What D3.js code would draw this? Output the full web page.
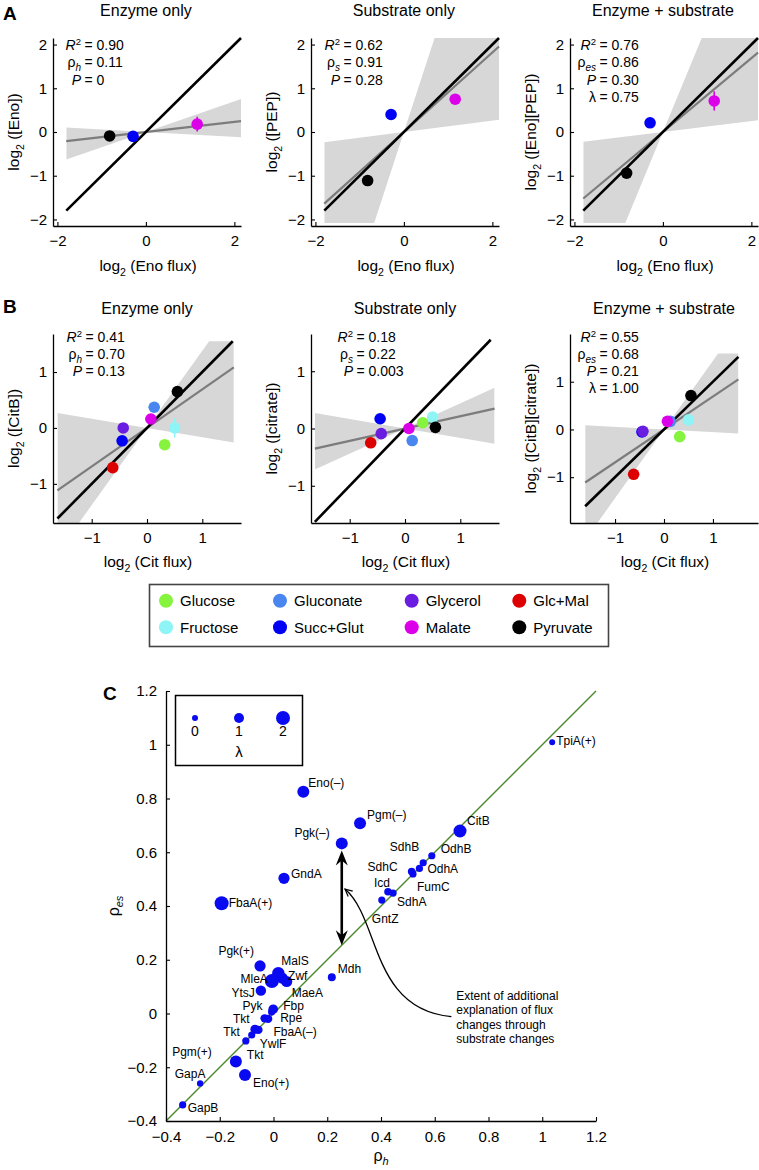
<!DOCTYPE html>
<html><head><meta charset="utf-8">
<script src="https://cdn.jsdelivr.net/npm/d3@7"></script>
<style>
body{margin:0;background:#fff}
svg{display:block;font-family:'Liberation Sans',Arial,Helvetica,sans-serif}
</style>
</head><body>
<svg id="fig" width="759" height="1170"></svg>
<script>
// ---------------- DATA ----------------
// Panel A: enolase (Eno) across three conditions
const enoConditions = ["Pyruvate", "Succ+Glut", "Malate"];
const enoFlux      = [-0.82, -0.29, 1.16];
const enoLevel     = [-0.09, -0.10, 0.18];
const enoLevelErr  = [0, 0, 0.17];
const pepLevel     = [-1.11, 0.40, 0.75];
const pepLevelErr  = [0, 0, 0];
const enoPepLevel  = [-0.94, 0.21, 0.71];
const enoPepErr    = [0, 0, 0.22];

// Panel B: citrate synthase (CitB) across eight conditions
const conditions = ["Glucose", "Gluconate", "Glycerol", "Glc+Mal", "Fructose", "Succ+Glut", "Malate", "Pyruvate"];
const conditionColors = ["#86f33f", "#4a86f0", "#6a1de0", "#dd0000", "#8ef4f6", "#0000f5", "#dc00ea", "#000000"];
const citFlux          = [0.32, 0.13, -0.43, -0.62, 0.50, -0.45, 0.07, 0.55];
const citFluxErr       = [0.07, 0, 0, 0, 0, 0, 0, 0];
const citBLevel        = [-0.30, 0.37, 0.00, -0.71, 0.00, -0.23, 0.16, 0.65];
const citBLevelErr     = [0, 0, 0, 0, 0.17, 0, 0, 0];
const citrateLevel     = [0.10, -0.21, -0.09, -0.25, 0.20, 0.17, 0.00, 0.02];
const citBCitrateLevel = [-0.15, 0.17, -0.04, -0.94, 0.20, -0.05, 0.17, 0.71];

// Fit results per sub-panel (A1..A3, B1..B3)
const fitSlope     = [0.115, 0.91, 0.845, 0.69, 0.215, 0.69];
const fitSlopeLow  = [-0.056, 0.13, 0.125, -0.165, -0.165, -0.055];
const fitSlopeHigh = [0.35, 3.1, 2.45, 1.38, 0.44, 1.44];
const statR2     = ["0.90", "0.62", "0.76", "0.41", "0.18", "0.55"];
const statRho    = ["0.11", "0.91", "0.86", "0.70", "0.22", "0.68"];
const statRhoSub = ["h", "s", "es", "h", "s", "es"];
const statP      = ["0", "0.28", "0.30", "0.13", "0.003", "0.21"];
const statLambda = [null, null, "0.75", null, null, "1.00"];

// Tick labels
const aXTicks = [-2, 0, 2];
const aYTicks = [-2, -1, 0, 1, 2];
const bTicks  = [-1, 0, 1];
const cTicks  = [-0.4, -0.2, 0, 0.2, 0.4, 0.6, 0.8, 1, 1.2];
const lambdaLegend = [0, 1, 2];

// Panel C: enzyme-only vs enzyme+substrate explanation
const genes = ["TpiA(+)","CitB","OdhB","SdhB","OdhA","FumC","SdhC","SdhA","Icd","GntZ",
  "Eno(–)","Pgm(–)","Pgk(–)","GndA","FbaA(+)","Pgk(+)","MalS","Zwf","MaeA","MleA","YtsJ","Mdh",
  "Pyk","Fbp","Tkt","Rpe","Tkt","FbaA(–)","YwlF","Tkt","Pgm(+)","Eno(+)","GapA","GapB"];
const rhoH = [1.037,0.694,0.589,0.557,0.543,0.519,0.514,0.445,0.426,0.403,
  0.111,0.322,0.254,0.039,-0.193,-0.050,0.018,0.032,0.049,-0.006,-0.047,0.217,
  -0.007,-0.001,-0.033,-0.020,-0.069,-0.056,-0.081,-0.103,-0.140,-0.106,-0.273,-0.338];
const rhoES = [1.009,0.679,0.587,0.561,0.540,0.519,0.528,0.448,0.453,0.422,
  0.825,0.708,0.633,0.503,0.410,0.177,0.150,0.132,0.119,0.121,0.085,0.135,
  0.006,0.016,-0.018,-0.020,-0.059,-0.061,-0.080,-0.102,-0.179,-0.229,-0.260,-0.340];
const lambdaVals = [0,1.75,0.3,0.3,0.3,0.3,0.4,0.3,0.4,0.3,
  1.5,1.5,1.5,1.3,2.0,1.3,1.6,1.3,1.3,2.0,1.1,0.5,
  0.3,0.9,0.6,0.6,0.8,0.6,0.3,0.3,1.5,1.5,0.1,0.3];
const annotationLines = ["Extent of additional", "explanation of flux", "changes through", "substrate changes"];

// ---------------- LAYOUT (not data) ----------------
const labelPlacement = [[4,-2,"start"],[7,-10,"start"],[9,-7,"start"],[-4,-16,"end"],[8,0,"start"],
  [4,13,"start"],[-14,-5,"end"],[4,9,"start"],[2,-9,"end"],[-10,19,"start"],
  [5,-9,"start"],[7,-8,"start"],[-12,-11,"end"],[7,-5,"start"],[7,-1,"start"],
  [-6,-15,"end"],[3,-12,"start"],[6,-2,"start"],[5,11,"start"],[-4,-2,"end"],[-6,2,"end"],[6,-8,"start"],
  [-9,-6,"end"],[10,-3,"start"],[-15,0,"end"],[12,-1,"start"],[-15,2,"end"],[15,2,"start"],
  [8,9,"start"],[1,14,"start"],[-24,-10,"end"],[8,8,"start"],[-10,-10,"middle"],[5,3,"start"]];
const bDrawOrder = [0, 1, 3, 4, 5, 2, 6, 7];

const svg = d3.select("#fig");
const FONT = "'Liberation Sans',Arial,Helvetica,sans-serif";
const colorOf = c => conditionColors[conditions.indexOf(c)];

function log2Label(t, rest, size) {
  t.append("tspan").text("log");
  t.append("tspan").attr("font-size", size * 0.68).attr("dy", size * 0.3).text("2");
  t.append("tspan").attr("dy", -size * 0.3).text(" " + rest);
}

function statLine(g, xEq, yc, kind, sub, value) {
  const t = g.append("text").attr("x", xEq - 8).attr("y", yc).attr("dy", "0.35em")
    .attr("text-anchor", "end").attr("font-size", 14);
  if (kind === "R2") {
    t.append("tspan").attr("font-style", "italic").text("R");
    t.append("tspan").attr("font-size", 9.5).attr("dy", -5).text("2");
  } else if (kind === "rho") {
    t.append("tspan").text("ρ");
    t.append("tspan").attr("font-size", 10).attr("font-style", "italic").attr("dy", 4).text(sub);
  } else if (kind === "P") {
    t.append("tspan").attr("font-style", "italic").text("P");
  } else {
    t.append("tspan").text("λ");
  }
  g.append("text").attr("x", xEq - 4.5).attr("y", yc).attr("dy", "0.35em")
    .attr("font-size", 14).text("= " + value);
}

function styleAxis(sel, size) {
  sel.attr("font-family", FONT).attr("font-size", size);
  sel.select(".domain").attr("stroke", "#000").attr("stroke-width", 1.3);
  sel.selectAll(".tick line").attr("stroke", "#000").attr("stroke-width", 1.1);
  sel.selectAll(".tick text").attr("fill", "#000");
}

function drawScatter(cfg, i) {
  const g = svg.append("g");
  const x = d3.scaleLinear().domain(cfg.xDomain).range([cfg.left, cfg.left + cfg.w]);
  const y = d3.scaleLinear().domain(cfg.yDomain).range([cfg.top + cfg.h, cfg.top]);
  const clipId = "clip" + i;
  g.append("clipPath").attr("id", clipId).append("rect")
    .attr("x", x(cfg.fitRange[0])).attr("width", x(cfg.fitRange[1]) - x(cfg.fitRange[0]))
    .attr("y", y(cfg.bandClip[1])).attr("height", y(cfg.bandClip[0]) - y(cfg.bandClip[1]));
  const [x0, x1] = cfg.fitRange, lo = fitSlopeLow[i], hi = fitSlopeHigh[i], s = fitSlope[i];
  const band = [[x0, lo * x0], [0, 0], [x1, hi * x1], [x1, lo * x1], [0, 0], [x0, hi * x0]];
  const line = d3.line().x(d => x(d[0])).y(d => y(d[1]));
  g.append("path").attr("d", line(band) + "Z").attr("fill", "#d7d7d7").attr("fill-rule", "evenodd")
    .attr("clip-path", `url(#${clipId})`);
  g.append("path").attr("d", line([[x0, s * x0], [x1, s * x1]])).attr("stroke", "#7c7c7c")
    .attr("stroke-width", 2.2).attr("fill", "none");
  const dclip = "dclip" + i;
  g.append("clipPath").attr("id", dclip).append("rect")
    .attr("x", cfg.left).attr("y", cfg.top - 2).attr("width", cfg.w + 2).attr("height", cfg.h + 2);
  g.append("path").attr("d", line([[cfg.diag[0], cfg.diag[0]], [cfg.diag[1], cfg.diag[1]]]))
    .attr("stroke", "#000").attr("stroke-width", 2.6).attr("fill", "none").attr("clip-path", `url(#${dclip})`);

  // axes
  const xa = g.append("g").attr("transform", `translate(0,${cfg.top + cfg.h})`)
    .call(d3.axisBottom(x).tickValues(cfg.xTicks).tickSizeInner(-4).tickSizeOuter(0).tickPadding(9).tickFormat(d3.format("")));
  styleAxis(xa, 15);
  const ya = g.append("g").attr("transform", `translate(${cfg.left},0)`)
    .call(d3.axisLeft(y).tickValues(cfg.yTicks).tickSizeInner(-4).tickSizeOuter(0).tickPadding(6).tickFormat(d3.format("")));
  styleAxis(ya, 15);

  // points
  const order = cfg.order || cfg.cond.map((c, k) => k);
  const pts = order.map(k => ({x: cfg.xs[k], y: cfg.ys[k], ex: cfg.ex ? cfg.ex[k] : 0,
    ey: cfg.ey ? cfg.ey[k] : 0, color: colorOf(cfg.cond[k])}));
  g.selectAll("line.ey").data(pts.filter(p => p.ey)).join("line").attr("class", "ey")
    .attr("x1", d => x(d.x)).attr("x2", d => x(d.x)).attr("y1", d => y(d.y - d.ey)).attr("y2", d => y(d.y + d.ey))
    .attr("stroke", d => d.color).attr("stroke-width", 1.6);
  g.selectAll("line.ex").data(pts.filter(p => p.ex)).join("line").attr("class", "ex")
    .attr("y1", d => y(d.y)).attr("y2", d => y(d.y)).attr("x1", d => x(d.x - d.ex)).attr("x2", d => x(d.x + d.ex))
    .attr("stroke", d => d.color).attr("stroke-width", 1.6);
  g.selectAll("circle.pt").data(pts).join("circle").attr("class", "pt")
    .attr("cx", d => x(d.x)).attr("cy", d => y(d.y)).attr("r", 5.8).attr("fill", d => d.color);

  // stats
  let yc = cfg.statY;
  statLine(g, cfg.eqX, yc, "R2", null, statR2[i]); yc += cfg.statStep;
  statLine(g, cfg.eqX, yc, "rho", statRhoSub[i], statRho[i]); yc += cfg.statStep;
  statLine(g, cfg.eqX, yc, "P", null, statP[i]); yc += cfg.statStep;
  if (statLambda[i]) statLine(g, cfg.eqX, yc, "lambda", null, statLambda[i]);

  // titles and labels
  g.append("text").attr("x", x(0)).attr("y", cfg.titleY).attr("text-anchor", "middle")
    .attr("font-size", 16).text(cfg.title);
  const xl = g.append("text").attr("x", cfg.left + cfg.w / 2 + 1).attr("y", cfg.xLabelY)
    .attr("text-anchor", "middle").attr("font-size", 15.5);
  log2Label(xl, cfg.xLabel, 15.5);
  const yl = g.append("text").attr("transform", `translate(${cfg.left - 34},${cfg.top + cfg.h / 2}) rotate(-90)`)
    .attr("text-anchor", "middle").attr("font-size", 15.5);
  log2Label(yl, cfg.yLabel, 15.5);
}

const A = {w: 188, h: 188, top: 38, xDomain: [-2.1, 2.15], yDomain: [-2.15, 2.15], xTicks: aXTicks, yTicks: aYTicks,
  fitRange: [-1.8, 2.15], diag: [-1.8, 2.15], bandClip: [-2.08, 2.15], cond: enoConditions, xs: enoFlux,
  statY: 45, statStep: 17.5, titleY: 16, xLabelY: 271, xLabel: "(Eno flux)"};
const B = {w: 188, h: 189, top: 334, xTicks: bTicks, yTicks: bTicks, cond: conditions, xs: citFlux, ex: citFluxErr,
  order: bDrawOrder, statY: 337, statStep: 17, titleY: 314, xLabelY: 567, xLabel: "(Cit flux)"};

const panelCfgs = [
  Object.assign({}, A, {left: 53, ys: enoLevel, ey: enoLevelErr, title: "Enzyme only", yLabel: "([Eno])", eqX: 89}),
  Object.assign({}, A, {left: 311, ys: pepLevel, ey: pepLevelErr, title: "Substrate only", yLabel: "([PEP])", eqX: 348}),
  Object.assign({}, A, {left: 570, ys: enoPepLevel, ey: enoPepErr, title: "Enzyme + substrate", yLabel: "([Eno][PEP])", eqX: 604}),
  Object.assign({}, B, {left: 53, xDomain: [-1.7, 1.7], yDomain: [-1.7, 1.68], ys: citBLevel, ey: citBLevelErr,
    fitRange: [-1.62, 1.57], diag: [-1.62, 1.55], bandClip: [-1.7, 1.55], title: "Enzyme only", yLabel: "([CitB])", eqX: 90}),
  Object.assign({}, B, {left: 311, xDomain: [-1.7, 1.7], yDomain: [-1.65, 1.65], ys: citrateLevel,
    fitRange: [-1.63, 1.62], diag: [-1.63, 1.55], bandClip: [-1.65, 1.65], title: "Substrate only", yLabel: "([citrate])", eqX: 361}),
  Object.assign({}, B, {left: 570, xDomain: [-1.92, 1.92], yDomain: [-1.96, 2.0], ys: citBCitrateLevel,
    fitRange: [-1.61, 1.52], diag: [-1.61, 1.52], bandClip: [-1.96, 1.59], title: "Enzyme + substrate", yLabel: "([CitB][citrate])", eqX: 604})
];
panelCfgs.forEach((c, i) => drawScatter(c, i));

// panel letters
svg.append("text").attr("x", 3).attr("y", 20).attr("font-size", 19).attr("font-weight", "bold").text("A");
svg.append("text").attr("x", 3).attr("y", 313).attr("font-size", 19).attr("font-weight", "bold").text("B");
svg.append("text").attr("x", 103).attr("y", 700).attr("font-size", 19).attr("font-weight", "bold").text("C");

// condition legend
const leg = svg.append("g");
leg.append("rect").attr("x", 149.5).attr("y", 584.5).attr("width", 459).attr("height", 62)
  .attr("fill", "none").attr("stroke", "#444").attr("stroke-width", 1.6);
const legColX = [166, 280, 411.7, 519.3], legRowY = [600.7, 627.3];
const legItems = leg.selectAll("g.item").data(conditions).join("g").attr("class", "item")
  .attr("transform", (d, k) => `translate(${legColX[k % 4]},${legRowY[Math.floor(k / 4)]})`);
legItems.append("circle").attr("r", 7).attr("fill", (d, k) => conditionColors[k]);
legItems.append("text").attr("x", 14).attr("dy", "0.35em").attr("font-size", 15).text(d => d);

// ---------------- PANEL C ----------------
const gc = svg.append("g");
const xC = d3.scaleLinear().domain([-0.4, 1.2]).range([166, 596]);
const yC = d3.scaleLinear().domain([-0.4, 1.2]).range([1121, 691]);
const rC = d3.scaleLinear().domain([0, 2]).range([3, 7]);
const ptColor = "#0a0af0";

gc.append("line").attr("x1", xC(-0.4)).attr("y1", yC(-0.4)).attr("x2", xC(1.2)).attr("y2", yC(1.2))
  .attr("stroke", "#4a8a2c").attr("stroke-width", 1.4);

const xaC = gc.append("g").attr("transform", `translate(0,${yC(-0.4)})`)
  .call(d3.axisBottom(xC).tickValues(cTicks).tickSizeInner(-4).tickSizeOuter(0).tickPadding(10).tickFormat(d3.format("")));
styleAxis(xaC, 15);
const yaC = gc.append("g").attr("transform", `translate(${xC(-0.4)},0)`)
  .call(d3.axisLeft(yC).tickValues(cTicks).tickSizeInner(-4).tickSizeOuter(0).tickPadding(9).tickFormat(d3.format("")));
styleAxis(yaC, 15);

// axis labels
const xlC = gc.append("text").attr("x", xC(0.4)).attr("y", 1161).attr("text-anchor", "middle").attr("font-size", 16);
xlC.append("tspan").text("ρ");
xlC.append("tspan").attr("font-size", 11).attr("font-style", "italic").attr("dy", 4).text("h");
const ylC = gc.append("text").attr("transform", `translate(119,${yC(0.4)}) rotate(-90)`).attr("text-anchor", "middle").attr("font-size", 16);
ylC.append("tspan").text("ρ");
ylC.append("tspan").attr("font-size", 11).attr("font-style", "italic").attr("dy", 4).text("es");

// double arrow for Pgk(-)
const pgk = genes.indexOf("Pgk(–)");
const ax = xC(rhoH[pgk]);
const aTop = yC(rhoES[pgk]) + rC(lambdaVals[pgk]) + 1;
const aBot = yC(rhoH[pgk]);
gc.append("line").attr("x1", ax).attr("x2", ax).attr("y1", aTop + 8).attr("y2", aBot - 8)
  .attr("stroke", "#000").attr("stroke-width", 2.6);
const head = (tipY, dir) => `M${ax},${tipY} L${ax - 6},${tipY + dir * 15} L${ax},${tipY + dir * 10} L${ax + 6},${tipY + dir * 15} Z`;
gc.append("path").attr("d", head(aTop, 1)).attr("fill", "#000");
gc.append("path").attr("d", head(aBot, -1)).attr("fill", "#000");

// callout curve
const cS = [xC(0.662), yC(-0.012)], c1 = [xC(0.361), yC(0.016)], c2 = [xC(0.398), yC(0.350)], cE = [xC(0.266), yC(0.463)];
const cp = d3.path();
cp.moveTo(cS[0], cS[1]);
cp.bezierCurveTo(c1[0], c1[1], c2[0], c2[1], cE[0], cE[1]);
gc.append("path").attr("d", cp.toString()).attr("fill", "none").attr("stroke", "#000").attr("stroke-width", 1.3);
{
  const ang = Math.atan2(cE[1] - c2[1], cE[0] - c2[0]);
  const L = 8, spread = 0.45;
  const pA = [cE[0] - L * Math.cos(ang - spread), cE[1] - L * Math.sin(ang - spread)];
  const pB = [cE[0] - L * Math.cos(ang + spread), cE[1] - L * Math.sin(ang + spread)];
  gc.append("path").attr("d", `M${pA[0]},${pA[1]} L${cE[0]},${cE[1]} L${pB[0]},${pB[1]}`)
    .attr("fill", "none").attr("stroke", "#000").attr("stroke-width", 1.2);
}
gc.selectAll("text.annot").data(annotationLines).join("text").attr("class", "annot")
  .attr("x", xC(0.68)).attr("y", (d, k) => 996 + k * 14.2).attr("dy", "0.35em").attr("font-size", 12).text(d => d);

// points
const cPts = genes.map((gname, k) => ({name: gname, x: rhoH[k], y: rhoES[k], l: lambdaVals[k], lp: labelPlacement[k]}));
gc.selectAll("circle.g").data(cPts).join("circle").attr("class", "g")
  .attr("cx", d => xC(d.x)).attr("cy", d => yC(d.y)).attr("r", d => rC(d.l)).attr("fill", ptColor);
gc.selectAll("text.g").data(cPts).join("text").attr("class", "g")
  .attr("x", d => xC(d.x) + d.lp[0]).attr("y", d => yC(d.y) + d.lp[1]).attr("dy", "0.35em")
  .attr("text-anchor", d => d.lp[2]).attr("font-size", 12).text(d => d.name);

// lambda legend
const lg = gc.append("g");
lg.append("rect").attr("x", 175.5).attr("y", 695.5).attr("width", 127).attr("height", 70)
  .attr("fill", "#fff").attr("stroke", "#000").attr("stroke-width", 1.5);
const lx = d3.scalePoint().domain(lambdaLegend).range([195, 283]);
lg.selectAll("circle").data(lambdaLegend).join("circle").attr("cx", d => lx(d)).attr("cy", 718)
  .attr("r", d => rC(d)).attr("fill", ptColor);
lg.selectAll("text.n").data(lambdaLegend).join("text").attr("class", "n").attr("x", d => lx(d)).attr("y", 731)
  .attr("dy", "0.35em").attr("text-anchor", "middle").attr("font-size", 14).text(d => d);
lg.append("text").attr("x", lx(1)).attr("y", 752).attr("dy", "0.35em").attr("text-anchor", "middle")
  .attr("font-size", 15).text("λ");
</script>
</body></html>
